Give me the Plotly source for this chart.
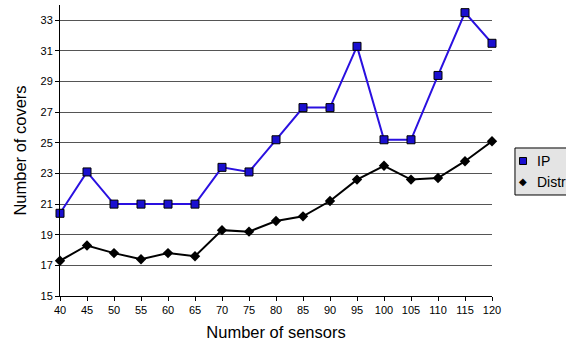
import plotly.graph_objects as go

sensors = [40, 45, 50, 55, 60, 65, 70, 75, 80, 85, 90, 95, 100, 105, 110, 115, 120]
ip_covers = [20.4, 23.1, 21.0, 21.0, 21.0, 21.0, 23.4, 23.1, 25.2, 27.3, 27.3, 31.3, 25.2, 25.2, 29.4, 33.5, 31.5]
distr_covers = [17.3, 18.3, 17.8, 17.4, 17.8, 17.6, 19.3, 19.2, 19.9, 20.2, 21.2, 22.6, 23.5, 22.6, 22.7, 23.8, 25.1]
y_ticks = [15, 17, 19, 21, 23, 25, 27, 29, 31, 33]
series_names = ["IP", "Distributed"]

fig = go.Figure()
fig.add_trace(go.Scatter(
    x=sensors, y=ip_covers, name=series_names[0], mode="lines+markers", showlegend=False,
    line=dict(color="#2a10e0", width=2),
    marker=dict(symbol="square", size=8, color="#1a0fd0", line=dict(color="black", width=1)),
    cliponaxis=False,
))
fig.add_trace(go.Scatter(
    x=sensors, y=distr_covers, name=series_names[1], mode="lines+markers", showlegend=False,
    line=dict(color="black", width=2),
    marker=dict(symbol="diamond", size=8, color="black"),
    cliponaxis=False,
))

# manual legend box (paper coordinates)
fig.add_shape(type="rect", xref="paper", yref="paper", x0=1.0532, x1=1.19, y0=0.3471, y1=0.5086,
              fillcolor="#e4e4e4", line=dict(color="black", width=1), layer="above")
fig.add_shape(type="rect", xref="paper", yref="paper", x0=1.0637, x1=1.0799, y0=0.4519, y1=0.4759,
              fillcolor="#1a0fd0", line=dict(color="black", width=1), layer="above")
fig.add_annotation(xref="paper", yref="paper", x=1.0718, y=0.3918, text="◆", showarrow=False,
                   font=dict(size=10, color="black"), xanchor="center", yanchor="middle")
fig.add_annotation(xref="paper", yref="paper", x=1.100, y=0.4639, text=series_names[0], showarrow=False,
                   font=dict(size=14, color="black"), xanchor="left", yanchor="middle")
fig.add_annotation(xref="paper", yref="paper", x=1.100, y=0.3918, text=series_names[1], showarrow=False,
                   font=dict(size=14, color="black"), xanchor="left", yanchor="middle")

fig.update_layout(
    width=566, height=344,
    margin=dict(l=60, r=74, t=5, b=48, autoexpand=False),
    paper_bgcolor="white", plot_bgcolor="white",
    font=dict(family="Liberation Sans, Arial, sans-serif", size=11, color="black"),
    showlegend=False,
    xaxis=dict(
        range=[40, 120], tickvals=sensors, ticks="outside", ticklen=4, tickcolor="black",
        showline=True, linecolor="black", linewidth=1, showgrid=False, zeroline=False,
        title=dict(text="Number of sensors", font=dict(size=16.5), standoff=11),
        tickfont=dict(size=11),
    ),
    yaxis=dict(
        range=[15, 34], tickvals=y_ticks, ticks="outside", ticklen=4, tickcolor="black",
        showline=True, linecolor="black", linewidth=1, showgrid=True, gridcolor="#555555",
        gridwidth=1, zeroline=False,
        title=dict(text="Number of covers", font=dict(size=16.5), standoff=9),
        tickfont=dict(size=11),
    ),
)

fig.write_html("out.html", config={"displayModeBar": False},
               post_script="document.body.style.margin='0';")
